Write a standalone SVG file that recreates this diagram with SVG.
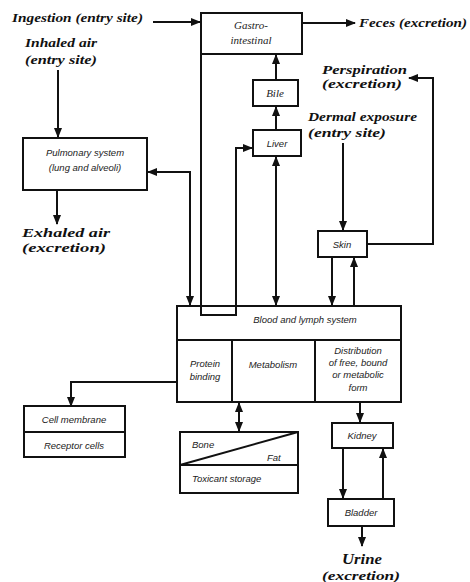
<svg xmlns="http://www.w3.org/2000/svg" width="470" height="582" viewBox="0 0 470 582">
<style>
.box{fill:#fff;stroke:#111;stroke-width:2}
.ln{fill:none;stroke:#111;stroke-width:2}
.ext{font-family:"Liberation Serif",serif;font-style:italic;font-weight:bold;fill:#111}
.lbl{font-family:"Liberation Sans",sans-serif;font-style:italic;font-size:9.5px;fill:#222}
.lbs{font-family:"Liberation Serif",serif;font-style:italic;font-size:11px;fill:#222}
</style>
<defs>
<marker id="ah" markerUnits="userSpaceOnUse" markerWidth="10" markerHeight="8" refX="9" refY="4" orient="auto-start-reverse">
<path d="M0,0 L10,4 L0,8 z" fill="#111"/>
</marker>
</defs>
<rect width="470" height="582" fill="#fff"/>

<g id="labels">
<text class="ext" x="12" y="22" font-size="13" textLength="131" lengthAdjust="spacingAndGlyphs">Ingestion (entry site)</text>
<text class="ext" x="359" y="27" font-size="13" textLength="108" lengthAdjust="spacingAndGlyphs">Feces (excretion)</text>
<text class="ext" x="25" y="47" font-size="12.5" textLength="72" lengthAdjust="spacingAndGlyphs">Inhaled air</text>
<text class="ext" x="25" y="64" font-size="12.5" textLength="72" lengthAdjust="spacingAndGlyphs">(entry site)</text>
<text class="ext" x="322" y="74" font-size="12" textLength="85" lengthAdjust="spacingAndGlyphs">Perspiration</text>
<text class="ext" x="322" y="88" font-size="12" textLength="80" lengthAdjust="spacingAndGlyphs">(excretion)</text>
<text class="ext" x="308" y="121" font-size="12.5" textLength="109" lengthAdjust="spacingAndGlyphs">Dermal exposure</text>
<text class="ext" x="308" y="137" font-size="12.5" textLength="78" lengthAdjust="spacingAndGlyphs">(entry site)</text>
<text class="ext" x="22" y="237" font-size="13.5" fill="#333" textLength="88" lengthAdjust="spacingAndGlyphs">Exhaled air</text>
<text class="ext" x="22" y="252" font-size="13.5" fill="#333" textLength="84" lengthAdjust="spacingAndGlyphs">(excretion)</text>
<text class="ext" x="342" y="564" font-size="14" textLength="40" lengthAdjust="spacingAndGlyphs">Urine</text>
<text class="ext" x="322" y="580" font-size="13" textLength="78" lengthAdjust="spacingAndGlyphs">(excretion)</text>
</g>

<g id="gastro">
<rect class="box" x="201" y="13" width="101" height="41"/>
<text class="lbs" x="251" y="29" text-anchor="middle">Gastro-</text>
<text class="lbs" x="251" y="44" text-anchor="middle">intestinal</text>
</g>
<g id="bile">
<rect class="box" x="253" y="80" width="45" height="26"/>
<text class="lbs" x="275" y="97" text-anchor="middle" font-size="10">Bile</text>
</g>
<g id="liver">
<rect class="box" x="253" y="130" width="48" height="26"/>
<text class="lbl" x="277" y="147" text-anchor="middle" font-size="10.5">Liver</text>
</g>
<g id="pulmonary">
<rect class="box" x="23" y="138" width="124" height="52"/>
<text class="lbl" x="85" y="156" text-anchor="middle">Pulmonary system</text>
<text class="lbl" x="85" y="171" text-anchor="middle">(lung and alveoli)</text>
</g>
<g id="skin">
<rect class="box" x="318" y="231" width="49" height="26"/>
<text class="lbl" x="342" y="248" text-anchor="middle" font-size="10.5">Skin</text>
</g>
<g id="blood">
<rect class="box" x="177" y="306" width="224" height="96"/>
<line class="ln" x1="177" y1="340" x2="401" y2="340"/>
<line class="ln" x1="232" y1="340" x2="232" y2="402"/>
<line class="ln" x1="315" y1="340" x2="315" y2="402"/>
<text class="lbl" x="305" y="323" text-anchor="middle" font-size="10.5">Blood and lymph system</text>
<text class="lbl" x="205" y="367" text-anchor="middle" font-size="8.5">Protein</text>
<text class="lbl" x="205" y="380" text-anchor="middle" font-size="8.5">binding</text>
<text class="lbl" x="273" y="368" text-anchor="middle" font-size="9">Metabolism</text>
<text class="lbl" x="358" y="354" text-anchor="middle" font-size="9">Distribution</text>
<text class="lbl" x="358" y="366" text-anchor="middle" font-size="9">of free, bound</text>
<text class="lbl" x="358" y="378" text-anchor="middle" font-size="9">or metabolic</text>
<text class="lbl" x="358" y="391" text-anchor="middle" font-size="9">form</text>
</g>
<g id="cell">
<rect class="box" x="24" y="406" width="101" height="51"/>
<line class="ln" x1="24" y1="432" x2="125" y2="432"/>
<text class="lbl" x="74" y="423" text-anchor="middle" font-size="10">Cell membrane</text>
<text class="lbl" x="74" y="449" text-anchor="middle" font-size="10">Receptor cells</text>
</g>
<g id="storage">
<rect class="box" x="180" y="432" width="118" height="61"/>
<line class="ln" x1="180" y1="465" x2="298" y2="465"/>
<line class="ln" x1="180" y1="465" x2="298" y2="432" stroke-width="1.5"/>
<text class="lbl" x="192" y="448" font-size="10">Bone</text>
<text class="lbl" x="267" y="461" font-size="9">Fat</text>
<text class="lbl" x="192" y="482" font-size="10">Toxicant storage</text>
</g>
<g id="kidney">
<rect class="box" x="332" y="423" width="61" height="25"/>
<text class="lbl" x="362" y="439" text-anchor="middle" font-size="10">Kidney</text>
</g>
<g id="bladder">
<rect class="box" x="328" y="499" width="66" height="27"/>
<text class="lbl" x="361" y="516" text-anchor="middle" font-size="10">Bladder</text>
</g>

<g id="connectors">
<path class="ln" d="M153,22 H200" marker-end="url(#ah)"/>
<path class="ln" d="M302,23 H355" marker-end="url(#ah)"/>
<path class="ln" d="M58,70 V137" marker-end="url(#ah)"/>
<path class="ln" d="M190,305 V172 H148" marker-start="url(#ah)" marker-end="url(#ah)"/>
<path class="ln" d="M57,190 V224" marker-end="url(#ah)"/>
<path class="ln" d="M201,54 V315 H236 V148 H252" marker-end="url(#ah)"/>
<path class="ln" d="M276,130 V107" marker-end="url(#ah)"/>
<path class="ln" d="M276,80 V55" marker-end="url(#ah)"/>
<path class="ln" d="M276,157 V305" marker-start="url(#ah)" marker-end="url(#ah)"/>
<path class="ln" d="M343,143 V230" marker-end="url(#ah)"/>
<path class="ln" d="M367,244 H433 V78 H409" marker-end="url(#ah)"/>
<path class="ln" d="M332,257 V305" marker-end="url(#ah)"/>
<path class="ln" d="M354,306 V258" marker-end="url(#ah)"/>
<path class="ln" d="M177,382 H71 V406" marker-end="url(#ah)"/>
<path class="ln" d="M239,403 V431" marker-start="url(#ah)" marker-end="url(#ah)"/>
<path class="ln" d="M360,402 V422" marker-end="url(#ah)"/>
<path class="ln" d="M343,448 V498" marker-end="url(#ah)"/>
<path class="ln" d="M383,499 V449" marker-end="url(#ah)"/>
<path class="ln" d="M362,526 V546" marker-end="url(#ah)"/>
</g>
</svg>
